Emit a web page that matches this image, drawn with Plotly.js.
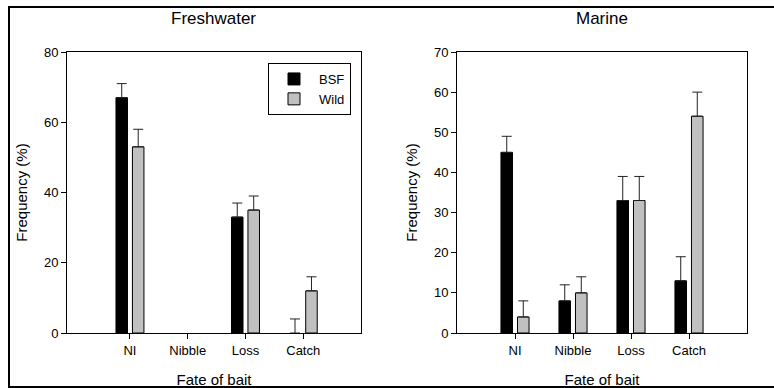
<!DOCTYPE html>
<html>
<head>
<meta charset="utf-8">
<script src="https://cdn.plot.ly/plotly-3.0.1.min.js"></script>
<style>
  html, body { margin:0; padding:0; background:#fff; }
  #wrap { position:relative; width:774px; height:388px; overflow:hidden; }
  #chart { position:absolute; left:0; top:0; width:774px; height:388px; }
  #frame { position:absolute; left:8px; top:6px; width:790px; height:378px; border:2px solid #000; pointer-events:none; }
</style>
</head>
<body>
<div id="wrap"><div id="chart"></div><div id="frame"></div></div>
<script>
const categories = ["NI", "Nibble", "Loss", "Catch"];

// freshwater "Nibble" has no recorded value (nothing drawn)
const freshBSF = [67, null, 33, 0];
const freshBSFErr = [4, 0, 4, 4];
const freshWild = [53, null, 35, 12];
const freshWildErr = [5, 0, 4, 4];

const marineBSF = [45, 8, 33, 13];
const marineBSFErr = [4, 4, 6, 6];
const marineWild = [4, 10, 33, 54];
const marineWildErr = [4, 4, 6, 6];

const FONT = "Liberation Sans, Arial, sans-serif";

function bar(name, y, err, color, xa, ya, showlegend) {
  return {
    type: "bar", name: name, x: categories, y: y,
    xaxis: xa, yaxis: ya, showlegend: showlegend, legendgroup: name,
    marker: { color: color, line: { color: "#000", width: y.map(v => v > 0 ? 1 : 0) } },
    error_y: { type: "data", array: err, symmetric: false,
               arrayminus: err.map(() => 0), color: "#222", thickness: 1, width: 5 }
  };
}

const data = [
  bar("BSF", freshBSF, freshBSFErr, "#000000", "x", "y", true),
  bar("Wild", freshWild, freshWildErr, "#c0c0c0", "x", "y", true),
  bar("BSF", marineBSF, marineBSFErr, "#000000", "x2", "y2", false),
  bar("Wild", marineWild, marineWildErr, "#c0c0c0", "x2", "y2", false)
];

const axisCommon = {
  showline: true, linecolor: "#000", linewidth: 1, mirror: true,
  showgrid: false, zeroline: false,
  ticks: "outside", ticklen: 5, tickcolor: "#000", tickwidth: 1,
  tickfont: { family: FONT, size: 13, color: "#000" }
};

const layout = {
  width: 774, height: 388,
  margin: { l: 0, r: 0, t: 0, b: 0 },
  paper_bgcolor: "#fff", plot_bgcolor: "#fff",
  barmode: "group", bargap: 0.43, bargroupgap: 0.3,
  font: { family: FONT, color: "#000" },
  xaxis: Object.assign({}, axisCommon, {
    domain: [67/774, 361/774], anchor: "y", type: "category",
    categoryorder: "array", categoryarray: categories,
    range: [-1.09, 4],
    title: { text: "Fate of bait", font: { family: FONT, size: 15 }, standoff: 17 }
  }),
  yaxis: Object.assign({}, axisCommon, {
    domain: [1 - 333/388, 1 - 52/388], anchor: "x",
    range: [0, 80], tickvals: [0, 20, 40, 60, 80],
    title: { text: "Frequency (%)", font: { family: FONT, size: 15 }, standoff: 12 }
  }),
  xaxis2: Object.assign({}, axisCommon, {
    domain: [457/774, 747/774], anchor: "y2", type: "category",
    categoryorder: "array", categoryarray: categories,
    range: [-1, 4],
    title: { text: "Fate of bait", font: { family: FONT, size: 15 }, standoff: 17 }
  }),
  yaxis2: Object.assign({}, axisCommon, {
    domain: [1 - 333/388, 1 - 52/388], anchor: "x2",
    range: [0, 70], tickvals: [0, 10, 20, 30, 40, 50, 60, 70],
    title: { text: "Frequency (%)", font: { family: FONT, size: 15 }, standoff: 12 }
  }),
  legend: {
    x: 268/774, y: 1 - 63/388, xanchor: "left", yanchor: "top",
    bgcolor: "#fff", bordercolor: "#000", borderwidth: 1,
    font: { family: FONT, size: 13, color: "#000" },
    itemwidth: 40, tracegroupgap: 0
  },
  annotations: [
    { text: "Freshwater", xref: "paper", yref: "paper", x: 214/774, y: 1 - 18/388,
      xanchor: "center", yanchor: "middle", showarrow: false,
      font: { family: FONT, size: 17, color: "#000" } },
    { text: "Marine", xref: "paper", yref: "paper", x: 602/774, y: 1 - 18/388,
      xanchor: "center", yanchor: "middle", showarrow: false,
      font: { family: FONT, size: 17, color: "#000" } }
  ]
};

Plotly.newPlot("chart", data, layout, { displayModeBar: false, staticPlot: true });
</script>
</body>
</html>
